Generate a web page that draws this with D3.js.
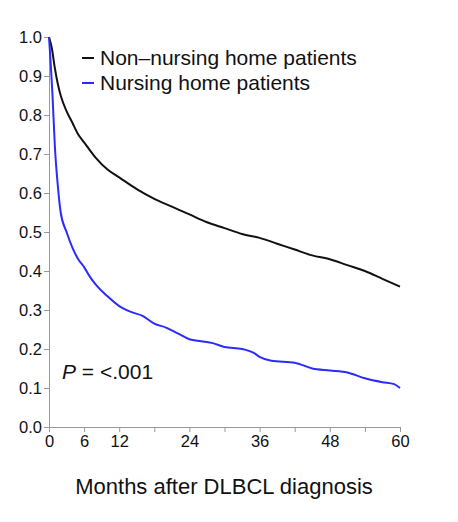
<!DOCTYPE html>
<html><head><meta charset="utf-8">
<script src="https://cdn.jsdelivr.net/npm/d3@7"></script>
<style>body{margin:0;background:#fff}text{font-family:"Liberation Sans",Arial,sans-serif}</style>
</head><body>
<svg id="chart" width="458" height="522"></svg>
<script>
// survival curves
var months = [0,0.5,1,1.5,2,3,4,5,6,8,10,12,15,18,21,24,27,30,33,36,39,42,45,48,51,54,57,60];
var nonNursing = [1,0.97,0.92,0.88,0.85,0.81,0.78,0.75,0.73,0.69,0.66,0.64,0.61,0.585,0.565,0.545,0.525,0.51,0.495,0.485,0.47,0.455,0.44,0.43,0.415,0.4,0.38,0.36];
var nhMonths = [0,0.3,0.6,1,1.5,2,3,4,5,6,7,8,10,12,14,16,18,20,22,24,26,28,30,33,35,36,38,42,45,48,51,54,57,59,60];
var nursing = [1,0.93,0.85,0.72,0.62,0.55,0.5,0.46,0.43,0.41,0.385,0.365,0.335,0.31,0.295,0.285,0.265,0.255,0.24,0.225,0.22,0.215,0.205,0.2,0.19,0.18,0.17,0.165,0.15,0.145,0.14,0.125,0.115,0.11,0.1];
var xTicks = [0,6,12,18,24,30,36,42,48,54,60];
var xLabels = [0,6,12,24,36,48,60];
var yTicks = [0,0.1,0.2,0.3,0.4,0.5,0.6,0.7,0.8,0.9,1.0];

var svg = d3.select("#chart");
var x = d3.scaleLinear().domain([0,60]).range([49,400]);
var y = d3.scaleLinear().domain([0,1]).range([427,37]);

svg.append("g").attr("transform","translate(0,427)")
    .call(d3.axisBottom(x).tickValues(xTicks).tickSize(5)
        .tickFormat(function(d){ return xLabels.indexOf(d) >= 0 ? d : ""; }))
    .call(function(g){ g.selectAll("text").attr("font-size",16.5).attr("fill","#111"); });
svg.append("g").attr("transform","translate(49,0)")
    .call(d3.axisLeft(y).tickValues(yTicks).tickSize(5).tickFormat(d3.format(".1f")))
    .call(function(g){ g.selectAll("text").attr("font-size",16.5).attr("fill","#111").attr("dx","1"); });
svg.selectAll(".domain, .tick line").attr("stroke","#999");

svg.append("path")
    .datum(months.map(function(m,i){ return [m, nonNursing[i]]; }))
    .attr("fill","none").attr("stroke","#111").attr("stroke-width",2)
    .attr("d", d3.line().x(function(d){return x(d[0]);}).y(function(d){return y(d[1]);}).curve(d3.curveMonotoneX));
svg.append("path")
    .datum(nhMonths.map(function(m,i){ return [m, nursing[i]]; }))
    .attr("fill","none").attr("stroke","#2b2bff").attr("stroke-width",2)
    .attr("d", d3.line().x(function(d){return x(d[0]);}).y(function(d){return y(d[1]);}).curve(d3.curveMonotoneX));

// legend
var legend = [["Non\u2013nursing home patients","#111"],["Nursing home patients","#2b2bff"]];
legend.forEach(function(l,i){
    var yy = 58 + i*25;
    svg.append("line").attr("x1",82).attr("x2",94).attr("y1",yy).attr("y2",yy)
        .attr("stroke",l[1]).attr("stroke-width",2);
    svg.append("text").attr("x",100).attr("y",yy+7).attr("font-size",21).attr("fill","#111").text(l[0]);
});

svg.append("text").attr("x",62).attr("y",379).attr("font-size",21).attr("fill","#111")
    .html('<tspan font-style="italic">P</tspan> = &lt;.001');
svg.append("text").attr("x",224).attr("y",494).attr("text-anchor","middle")
    .attr("font-size",22).attr("fill","#111").text("Months after DLBCL diagnosis");
</script>
</body></html>
